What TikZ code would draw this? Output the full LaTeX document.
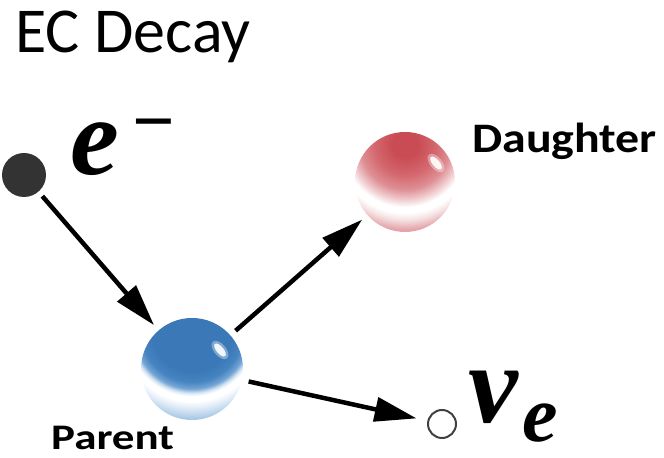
\documentclass[tikz,border=0pt]{standalone}
\usepackage{fontspec}
\setmainfont{Carlito}
\newfontfamily\symserif{Liberation Serif}
\usetikzlibrary{arrows.meta,positioning,calc}
\definecolor{elecgray}{HTML}{333333}
\definecolor{nugray}{HTML}{404040}
\definecolor{bA}{HTML}{3A78B7}
\definecolor{bB}{HTML}{4583C1}
\definecolor{bC}{HTML}{74A5D4}
\definecolor{bD}{HTML}{D3E4F3}
\definecolor{bE}{HTML}{E4EEF8}
\definecolor{bF}{HTML}{A9C8E6}
\definecolor{rA}{HTML}{C94B53}
\definecolor{rB}{HTML}{D4676E}
\definecolor{rC}{HTML}{DE8F94}
\definecolor{rD}{HTML}{F2D3D5}
\definecolor{rE}{HTML}{F6E2E3}
\definecolor{rF}{HTML}{E3A5A9}
\pgfdeclareradialshading{bluering}{\pgfpoint{0bp}{0bp}}{color(0bp)=(bA); color(11.1bp)=(bA);
 color(13.9bp)=(bB); color(15.8bp)=(bC); color(16.9bp)=(bD); color(17.8bp)=(white);
 color(19.2bp)=(white); color(20.8bp)=(bE); color(23.9bp)=(bF); color(50bp)=(bF)}
\pgfdeclareradialshading{redring}{\pgfpoint{0bp}{0bp}}{color(0bp)=(rA); color(3.5bp)=(rA);
 color(8.5bp)=(rB); color(12.5bp)=(rC); color(15.6bp)=(rD); color(17.4bp)=(white);
 color(19bp)=(white); color(20.85bp)=(rE); color(23.6bp)=(rF); color(50bp)=(rF)}

\begin{document}
\begin{tikzpicture}[x=1bp,y=1bp,
 ball/.style={circle,inner sep=0pt,minimum size=#1,outer sep=7bp},
 shine/.style={white,opacity=0.9},
 arr/.style={-{Triangle[length=42bp,width=24bp]},line width=4.5bp},
 lbl/.style={inner sep=0pt,anchor=base west}]
 \useasboundingbox (0,0) rectangle (664,458);
 \node[lbl,font=\fontsize{64bp}{70bp}\selectfont] (title) at (15,405) {EC Decay};
 \node[ball=44bp,fill=elecgray,outer sep=6bp] (elec) at (24,283) {};
 \node[ball=102bp] (parent) at (192,89) {};
 \node[ball=100bp] (daughter) at (405,276) {};
 \node[ball=28bp,draw=nugray,line width=2bp,fill=white,outer sep=12bp] (nu) at (442,34) {};
 \coordinate (pring) at ($(parent.center)+(0,38.25)$);
 \coordinate (dring) at ($(daughter.center)+(0,37.5)$);
 \begin{scope}
  \clip (parent.center) circle (51);
  \shade[shading=bluering] (pring) circle (91.8);
 \end{scope}
 \begin{scope}
  \clip (daughter.center) circle (50);
  \shade[shading=redring] (dring) circle (90);
 \end{scope}
 \coordinate (phl) at ($(parent.center)+(28,19)$);
 \coordinate (dhl) at ($(daughter.center)+(31,19)$);
 \fill[shine,opacity=0.35,rotate around={-50:(phl)}] (phl) ellipse (11 and 6);
 \fill[shine,rotate around={-50:(phl)}] (phl) ellipse (8 and 3.5);
 \fill[shine,opacity=0.35,rotate around={-50:(dhl)}] (dhl) ellipse (11 and 6);
 \fill[shine,rotate around={-50:(dhl)}] (dhl) ellipse (8 and 3.5);
 \node[lbl,font=\symserif\bfseries\itshape\fontsize{110bp}{120bp}\selectfont] (elbl) at (70,283)
 {e\hspace{13bp}\raisebox{28bp}{\fontsize{75bp}{80bp}\selectfont\upshape −}};
 \node[lbl,font=\symserif\bfseries\itshape\fontsize{112bp}{118bp}\selectfont] (nulbl) at (468,35)
 {ν\hspace{5bp}\raisebox{-19bp}{\fontsize{80bp}{86bp}\selectfont e}};
 \node[lbl,font=\bfseries\fontsize{42bp}{46bp}\selectfont] (dlbl) at (472,305) {\scalebox{1.14}[1]{Daughter}};
 \node[lbl,font=\bfseries\fontsize{36bp}{40bp}\selectfont] (plbl) at (51,8) {\scalebox{1.25}[1]{Parent}};
 \draw[arr] (elec) -- (parent);
 \draw[arr] (parent) -- (daughter);
 \draw[arr] (parent) -- (nu);
\end{tikzpicture}
\end{document}
